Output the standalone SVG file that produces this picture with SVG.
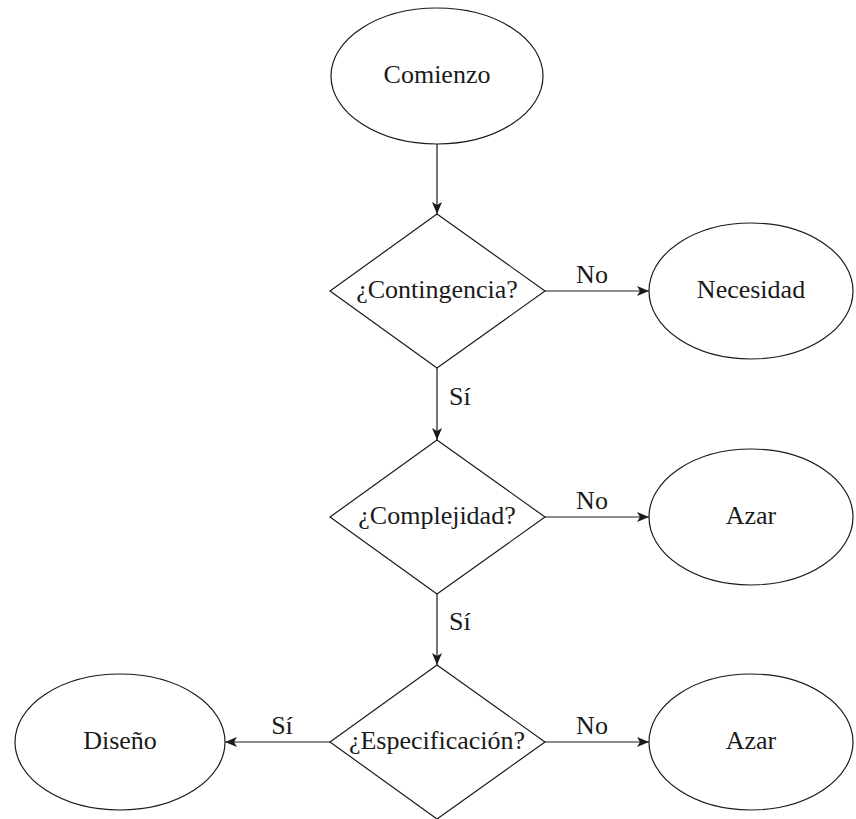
<svg xmlns="http://www.w3.org/2000/svg" width="856" height="819" viewBox="0 0 856 819">
<style>
.shape{fill:none;stroke:#1a1a1a;stroke-width:1.2}
.edge{fill:none;stroke:#1a1a1a;stroke-width:1.2;marker-end:url(#arr)}
text{font-family:"Liberation Serif","DejaVu Serif",serif;font-size:26px;fill:#1a1a1a}
.c{text-anchor:middle}
</style>
<defs>
<marker id="arr" viewBox="0 0 12 10" refX="12" refY="5" markerWidth="12" markerHeight="10" markerUnits="userSpaceOnUse" orient="auto">
<path d="M0,0 L12,5 L0,10 L3,5 z" fill="#1a1a1a"/>
</marker>
</defs>
<rect width="856" height="819" fill="#fff"/>
<g id="comienzo"><ellipse class="shape" cx="437" cy="76" rx="106" ry="68"/><text class="c" x="437" y="83">Comienzo</text></g>
<g id="contingencia"><polygon class="shape" points="437,214 545,291 437,368 330,291"/><text class="c" x="437" y="298">¿Contingencia?</text></g>
<g id="necesidad"><ellipse class="shape" cx="751" cy="291" rx="102" ry="68"/><text class="c" x="751" y="298">Necesidad</text></g>
<g id="complejidad"><polygon class="shape" points="437,440 545,517 437,594 330,517"/><text class="c" x="437" y="524">¿Complejidad?</text></g>
<g id="azar1"><ellipse class="shape" cx="751" cy="517" rx="102" ry="68"/><text class="c" x="751" y="524">Azar</text></g>
<g id="especificacion"><polygon class="shape" points="437,665 545,742 437,819 330,742"/><text class="c" x="437" y="749">¿Especificación?</text></g>
<g id="azar2"><ellipse class="shape" cx="751" cy="742" rx="102" ry="68"/><text class="c" x="751" y="749">Azar</text></g>
<g id="diseno"><ellipse class="shape" cx="120" cy="742" rx="105" ry="68"/><text class="c" x="120" y="749">Diseño</text></g>
<g id="connectors">
<line class="edge" x1="437" y1="144" x2="437" y2="214"/>
<line class="edge" x1="545" y1="291" x2="649" y2="291"/>
<text class="c" x="592" y="283">No</text>
<line class="edge" x1="437" y1="368" x2="437" y2="440"/>
<text x="449" y="405">Sí</text>
<line class="edge" x1="545" y1="517" x2="649" y2="517"/>
<text class="c" x="592" y="509">No</text>
<line class="edge" x1="437" y1="594" x2="437" y2="665"/>
<text x="449" y="630">Sí</text>
<line class="edge" x1="545" y1="742" x2="649" y2="742"/>
<text class="c" x="592" y="734">No</text>
<line class="edge" x1="330" y1="742" x2="225" y2="742"/>
<text class="c" x="282" y="734">Sí</text>
</g>
</svg>
